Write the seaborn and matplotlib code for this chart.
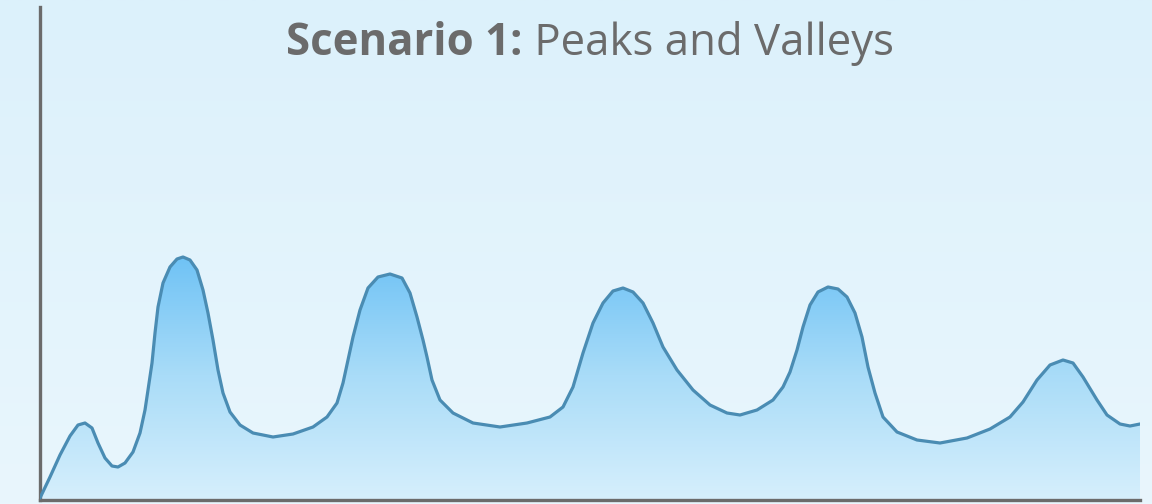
import numpy as np
import matplotlib
matplotlib.use("Agg")
import matplotlib.pyplot as plt
from matplotlib.colors import LinearSegmentedColormap
import pandas as pd
import seaborn as sns

# readings (x: 0-110 along the axis, y: same units upward)
x_vals = [0, 1.0, 2.0, 3.0, 3.8, 4.5, 5.2, 5.8, 6.5, 7.2, 7.8, 8.5, 9.3, 10.0,
          10.5, 10.8, 11.2, 11.5, 11.8, 12.3, 13.0, 13.7, 14.3, 15.0, 15.7, 16.3,
          16.8, 17.3, 17.8, 18.3, 19.0, 20.0, 21.3, 23.3, 25.3, 27.3, 28.7, 29.7,
          30.3, 30.8, 31.3, 32.0, 32.8, 33.8, 35.0, 36.2, 37.0, 37.7, 38.3, 38.7,
          39.2, 40.0, 41.3, 43.3, 46.0, 48.7, 51.0, 52.3, 53.3, 54.3, 55.3, 56.3,
          57.3, 58.3, 59.3, 60.3, 61.3, 62.3, 63.7, 65.3, 67.0, 68.7, 70.0, 71.7,
          73.3, 74.3, 75.0, 75.7, 76.3, 77.0, 77.8, 78.8, 79.8, 80.7, 81.5, 82.2,
          82.8, 83.5, 84.3, 85.7, 87.7, 90.0, 92.7, 95.0, 97.0, 98.3, 99.7, 101.0,
          102.3, 103.3, 104.3, 105.7, 106.7, 108.0, 109.0, 110.0]
y_vals = [0.4, 4.6, 9.0, 12.8, 15.0, 15.4, 14.4, 11.4, 8.4, 6.8, 6.6, 7.4, 9.6, 13.4,
          18.0, 22.0, 27.4, 33.4, 38.6, 43.4, 46.6, 48.2, 48.6, 48.0, 46.0, 42.0,
          37.4, 32.0, 26.0, 21.4, 17.6, 15.0, 13.4, 12.6, 13.2, 14.6, 16.6, 19.4,
          23.4, 28.0, 32.6, 38.0, 42.4, 44.6, 45.2, 44.4, 41.4, 36.6, 32.0, 28.6,
          24.0, 20.0, 17.4, 15.4, 14.6, 15.4, 16.6, 18.6, 22.6, 29.4, 35.4, 39.4,
          41.8, 42.4, 41.6, 39.4, 35.4, 30.6, 26.0, 22.0, 19.0, 17.4, 17.0, 18.0,
          20.0, 22.6, 25.6, 30.0, 34.6, 39.0, 41.6, 42.6, 42.2, 40.6, 37.4, 32.6,
          26.6, 21.4, 16.6, 13.6, 12.0, 11.4, 12.4, 14.2, 16.6, 19.6, 24.0, 27.0,
          28.0, 27.4, 24.6, 20.0, 17.0, 15.2, 14.8, 15.2]

title_bold = "Scenario 1:"
title_rest = " Peaks and Valleys"

df = pd.DataFrame({"x": x_vals, "y": y_vals})

sns.set_style("white")
plt.rcParams["font.family"] = ["Open Sans", "DejaVu Sans"]

W, H = 1152, 504
fig = plt.figure(figsize=(W / 100, H / 100), dpi=100)

# soft background gradient over the whole figure
bg = fig.add_axes([0, 0, 1, 1], zorder=0)
bg_cmap = LinearSegmentedColormap.from_list("bg", ["#e9f6fd", "#dcf1fb"])
bg.imshow(np.linspace(0, 1, 256).reshape(-1, 1), aspect="auto", cmap=bg_cmap,
          origin="lower", extent=[0, 1, 0, 1])
bg.set_axis_off()

ax = fig.add_axes([40 / W, 4 / H, 1100 / W, 493 / H], zorder=1)
ax.patch.set_alpha(0)

# gradient fill under the curve
fill = ax.fill_between(df["x"], df["y"], 0, color="none", lw=0)
fill_cmap = LinearSegmentedColormap.from_list("fill", ["#d6effc", "#a9dcf8", "#6cc1f5"])
grad = ax.imshow(np.linspace(0, 1, 256).reshape(-1, 1), aspect="auto", cmap=fill_cmap,
                 origin="lower", extent=[0, 110, 0, 50], zorder=1)
grad.set_clip_path(fill.get_paths()[0], transform=ax.transData)

sns.lineplot(data=df, x="x", y="y", ax=ax, color="#4a8cb3", lw=2.3,
             estimator=None, sort=False, zorder=3,
             solid_capstyle="round", solid_joinstyle="round")

ax.set_xlim(0, 110)
ax.set_ylim(0, 98.6)
ax.set_xticks([])
ax.set_yticks([])
ax.set_xlabel("")
ax.set_ylabel("")
for side in ["top", "right"]:
    ax.spines[side].set_visible(False)
for side in ["left", "bottom"]:
    ax.spines[side].set_color("#6b6b6b")
    ax.spines[side].set_linewidth(2.4)

# two-part title, centred over the plot area
fs = 31.5
yb = (H - 55) / H
t1 = fig.text(0, yb, title_bold, fontsize=fs, fontweight="bold", color="#6b6b6b", va="baseline")
t2 = fig.text(0, yb, title_rest, fontsize=fs, color="#6b6b6b", va="baseline")
fig.canvas.draw()
r = fig.canvas.get_renderer()
w1 = t1.get_window_extent(r).width
w2 = t2.get_window_extent(r).width
x0 = 590 - (w1 + w2) / 2
t1.set_x(x0 / W)
t2.set_x((x0 + w1) / W)

fig.savefig("out.png", dpi=100)
